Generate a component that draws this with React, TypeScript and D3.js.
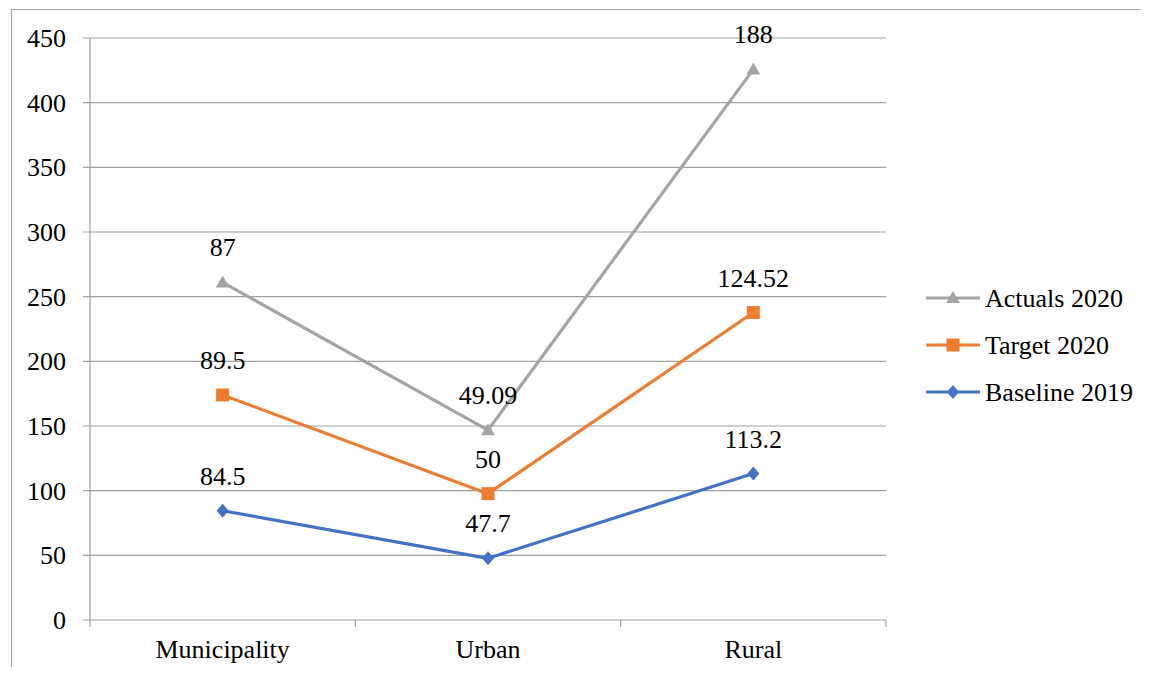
import React from "react";
import * as d3 from "d3";

const categories = ["Municipality", "Urban", "Rural"];
const baseline2019 = [84.5, 47.7, 113.2];
const target2020 = [89.5, 50, 124.52];
const actuals2020 = [87, 49.09, 188];
const yTicks = [0, 50, 100, 150, 200, 250, 300, 350, 400, 450];
const labelsBaseline = ["84.5", "47.7", "113.2"];
const labelsTarget = ["89.5", "50", "124.52"];
const labelsActuals = ["87", "49.09", "188"];

const W = 1149, H = 675;
const FONT = "Liberation Serif, Times New Roman, serif";

export default function App() {
  const x = d3.scaleBand<string>().domain(categories).range([90, 886]);
  const y = d3.scaleLinear().domain([0, 450]).range([620, 38]);
  const cx = (c: string) => (x(c) as number) + x.bandwidth() / 2;

  const s1 = baseline2019;
  const s2 = target2020.map((v, i) => v + s1[i]);
  const s3 = actuals2020.map((v, i) => v + s2[i]);

  const series = [
    { name: "Actuals 2020", vals: s3, labels: labelsActuals, color: "#A5A5A5", marker: "triangle" },
    { name: "Target 2020", vals: s2, labels: labelsTarget, color: "#ED7D31", marker: "square" },
    { name: "Baseline 2019", vals: s1, labels: labelsBaseline, color: "#4472C4", marker: "diamond" },
  ];

  const line = d3.line<number>().x((_, i) => cx(categories[i])).y((v) => y(v));

  const marker = (type: string, px: number, py: number, color: string, key: string) => {
    if (type === "triangle")
      return <path key={key} d={`M${px},${py - 7}L${px + 7},${py + 5}L${px - 7},${py + 5}Z`} fill={color} />;
    if (type === "square")
      return <rect key={key} x={px - 6.5} y={py - 6.5} width={13} height={13} fill={color} />;
    return <path key={key} d={`M${px},${py - 7}L${px + 6},${py}L${px},${py + 7}L${px - 6},${py}Z`} fill={color} />;
  };

  const ts = { fontFamily: FONT, fontSize: "26px" } as React.CSSProperties;

  return (
    <svg width={W} height={H} style={{ display: "block", margin: "-8px", fontFamily: FONT }}>
      <rect x={0} y={0} width={W} height={H} fill="#fff" />
      <path d={`M11.5,${H}V9.5H${W}`} fill="none" stroke="#A6A6A6" strokeWidth={1.2} />
      {yTicks.map((t) => (
        <g key={t}>
          <line x1={83} x2={886} y1={y(t)} y2={y(t)} stroke="#A0A0A0" strokeWidth={1.2} />
          <text x={66} y={y(t) + 9} style={ts} textAnchor="end" fill="#000">{t}</text>
        </g>
      ))}
      <line x1={90} x2={90} y1={38} y2={620} stroke="#A0A0A0" strokeWidth={1.2} />
      {[...categories.map((c) => x(c) as number), 886].map((v, i) => (
        <line key={i} x1={v} x2={v} y1={620} y2={627} stroke="#A0A0A0" strokeWidth={1.2} />
      ))}
      {categories.map((c) => (
        <text key={c} x={cx(c)} y={658} style={ts} textAnchor="middle" fill="#000">{c}</text>
      ))}
      {series.map((s) => (
        <g key={s.name}>
          <path d={line(s.vals) as string} fill="none" stroke={s.color} strokeWidth={3.2} strokeLinejoin="round" />
          {s.vals.map((v, i) => marker(s.marker, cx(categories[i]), y(v), s.color, s.name + i))}
          {s.vals.map((v, i) => (
            <text key={"l" + i} x={cx(categories[i])} y={y(v) - 26} style={ts} textAnchor="middle" fill="#000">{s.labels[i]}</text>
          ))}
        </g>
      ))}
      {series.map((s, i) => {
        const ly = 298 + i * 47;
        return (
          <g key={"lg" + i}>
            <line x1={926} x2={980} y1={ly} y2={ly} stroke={s.color} strokeWidth={3.2} />
            {marker(s.marker, 953, ly, s.color, "lm" + i)}
            <text x={985} y={ly + 9} style={ts} fill="#000">{s.name}</text>
          </g>
        );
      })}
    </svg>
  );
}
